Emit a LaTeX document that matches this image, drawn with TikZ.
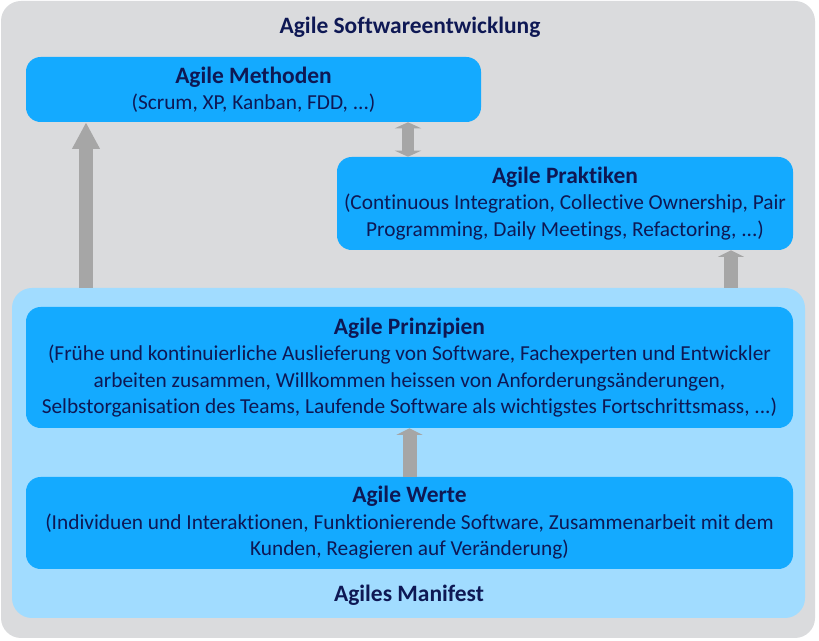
\documentclass[tikz,border=0pt]{standalone}
\usepackage{fontspec}
\setmainfont{Carlito}[Ligatures=NoCommon]
\usepackage{tikz}
\usetikzlibrary{arrows.meta,positioning,calc}
\definecolor{FrameColor}{RGB}{218,219,221}
\definecolor{ManifestColor}{RGB}{161,220,255}
\definecolor{BoxColor}{RGB}{20,170,255}
\definecolor{InkColor}{RGB}{14,24,84}
\definecolor{ArrowColor}{RGB}{166,166,166}
\newcommand{\boxtitle}[1]{{\fontsize{17.6pt}{19.8pt}\selectfont\bfseries #1}}

\begin{document}
\begin{tikzpicture}[x=0.75pt, y=-0.75pt,
    font=\fontsize{16pt}{19.8pt}\selectfont, text=InkColor,
    blockbox/.style={fill=BoxColor, rounded corners=11pt, align=center, inner sep=0pt},
    bigarrow/.style={draw=ArrowColor, line width=10.5pt, -{Triangle[length=20pt, width=19.5pt]}},
    shortarrow/.style={draw=ArrowColor, line width=10.5pt, -{Triangle[length=5pt, width=19.5pt]}},
    botharrow/.style={draw=ArrowColor, line width=9pt, {Triangle[length=4.5pt, width=19.5pt]}-{Triangle[length=4.5pt, width=19.5pt]}}]
  \useasboundingbox (0,0) rectangle (819,641);
  % frame and manifest
  \node[fill=FrameColor, rounded corners=15pt, minimum width=610.5pt, minimum height=477.75pt] (frame) at (408,319.5) {};
  \node[fill=ManifestColor, rounded corners=15pt, minimum width=594.75pt, minimum height=247.5pt] (manifest) at (408.5,453) {};
  \node (title) at (410,27) {\boxtitle{Agile Softwareentwicklung}};
  \node (maniftitle) at (409,595) {\boxtitle{Agiles Manifest}};
  % boxes
  \node[blockbox, minimum width=341.25pt, minimum height=48.75pt] (methoden) at (253.5,89.5)
    {\boxtitle{Agile Methoden}\\(Scrum, XP, Kanban, FDD, ...)};
  \node[blockbox, minimum width=342pt, minimum height=69.75pt] (praktiken) at (565,203.5)
    {\boxtitle{Agile Praktiken}\\(Continuous Integration, Collective Ownership, Pair\\Programming, Daily Meetings, Refactoring, ...)};
  \node[blockbox, minimum width=575.25pt, minimum height=90.75pt] (prinzipien) at (409.5,367.5)
    {\boxtitle{Agile Prinzipien}\\(Frühe und kontinuierliche Auslieferung von Software, Fachexperten und Entwickler\\arbeiten zusammen, Willkommen heissen von Anforderungsänderungen,\\Selbstorganisation des Teams, Laufende Software als wichtigstes Fortschrittsmass, ...)};
  \node[blockbox, minimum width=575.25pt, minimum height=69pt] (werte) at (409.5,523)
    {\boxtitle{Agile Werte}\\(Individuen und Interaktionen, Funktionierende Software, Zusammenarbeit mit dem\\Kunden, Reagieren auf Veränderung)};
  % arrows
  \coordinate (lx) at (86,0);
  \coordinate (mx) at (408,0);
  \coordinate (rx) at (731,0);
  \draw[bigarrow] (lx |- manifest.north) -- (lx |- methoden.south);
  \draw[botharrow] (mx |- methoden.south) -- (mx |- praktiken.north);
  \draw[shortarrow] (rx |- manifest.north) -- (rx |- praktiken.south);
  \draw[shortarrow] (werte.north) -- (prinzipien.south);
\end{tikzpicture}
\end{document}
